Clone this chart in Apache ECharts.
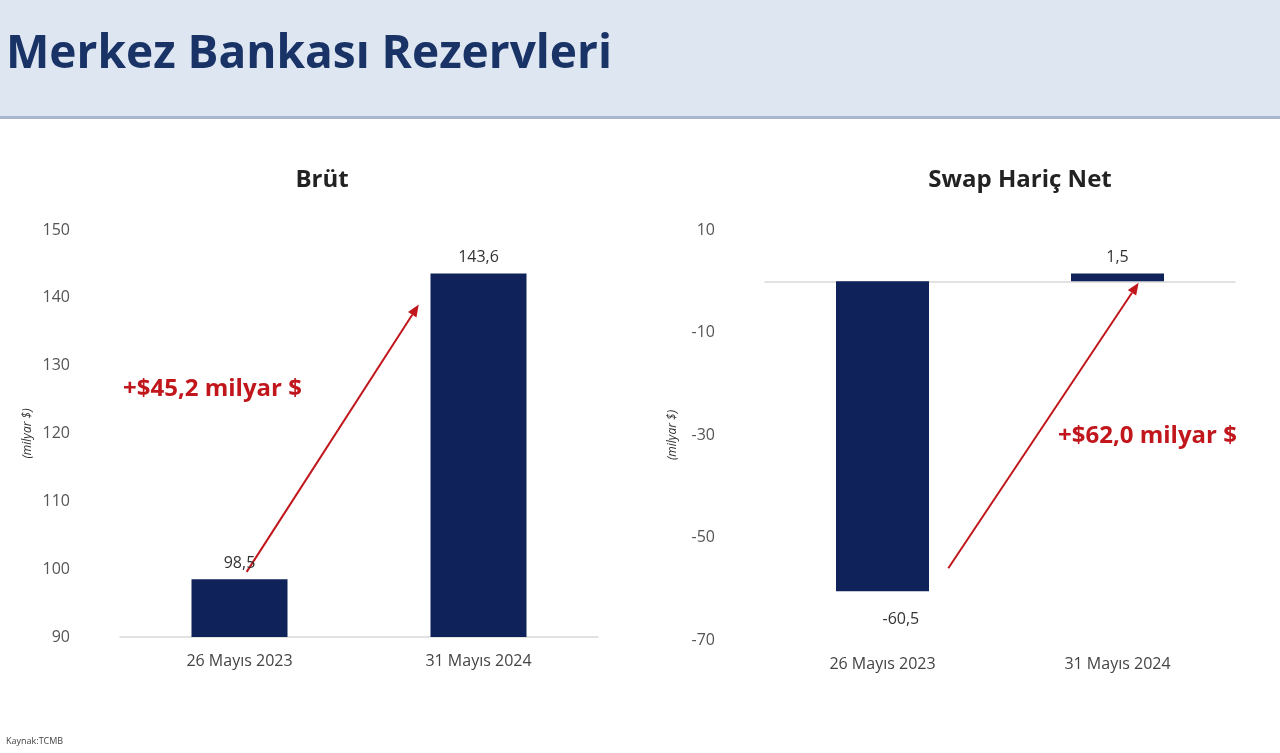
<!DOCTYPE html><html><head><meta charset="utf-8">
<script src="https://cdn.jsdelivr.net/npm/echarts@6/dist/echarts.min.js"></script>
<style>html,body{margin:0;padding:0;background:#fff}#c{width:1280px;height:753px}</style></head><body><div id="c"></div>
<script>
const categories = ['26 Mayıs 2023', '31 Mayıs 2024'];
const brut = [98.5, 143.6];
const net = [-60.5, 1.5];
const brutTicks = [90, 150, 10];
const netTicks = [-70, 10, 20];
const fmt = v => String(v).replace('.', ',');
const chart = echarts.init(document.getElementById('c'));
const navy = '#0f2259', red = '#c0161c', font = 'Open Sans';
const xa = (gi) => ({type:'category', gridIndex:gi, data:categories,
  axisTick:{show:false}, axisLine:{lineStyle:{color:'#d9d9d9', width:1.5}},
  axisLabel:{color:'#444', fontSize:16, fontFamily:font, margin:16}});
const ya = (gi, t) => ({type:'value', gridIndex:gi, min:t[0], max:t[1], interval:t[2],
  splitLine:{show:false}, axisLine:{show:false}, axisTick:{show:false},
  axisLabel:{color:'#555', fontSize:16, fontFamily:font, margin:50, formatter:fmt},
  name:'(milyar $)', nameLocation:'middle', nameGap:86, nameRotate:90,
  nameTextStyle:{fontStyle:'italic', fontSize:12, color:'#333', fontFamily:font}});
chart.setOption({
  animation:false,
  title:[
    {text:'Brüt', left:317, top:163, textAlign:'center', textStyle:{fontSize:24, fontWeight:'bold', color:'#222', fontFamily:font}},
    {text:'Swap Hariç Net', left:1015, top:163, textAlign:'center', textStyle:{fontSize:24, fontWeight:'bold', color:'#222', fontFamily:font}}
  ],
  grid:[{left:120, width:478, top:230, height:407}, {left:765, width:470, top:230, height:410}],
  xAxis:[xa(0), xa(1)],
  yAxis:[ya(0, brutTicks), ya(1, netTicks)],
  series:[
    {type:'bar', xAxisIndex:0, yAxisIndex:0, data:brut, barWidth:96, itemStyle:{color:navy},
     label:{show:true, position:'top', color:'#333', fontSize:16, fontFamily:font, distance:8, formatter:p=>fmt(p.value)}},
    {type:'bar', xAxisIndex:1, yAxisIndex:1, data:net, barWidth:93, itemStyle:{color:navy},
     label:{show:true, position:'top', color:'#333', fontSize:16, fontFamily:font, distance:8, formatter:p=>fmt(p.value)},
     labelLayout:p=>p.dataIndex===0?{y:p.rect.y+p.rect.height+20}:{}}
  ]
});
function px(gi, cat, off, val){
  const a = chart.convertToPixel({gridIndex:gi}, [cat, val]);
  const b = chart.convertToPixel({gridIndex:gi}, [1, val]);
  const c0 = chart.convertToPixel({gridIndex:gi}, [0, val]);
  return [a[0] + off*(b[0]-c0[0]), a[1]];
}
function arrow(p1, p2){
  const ang = Math.atan2(p2[1]-p1[1], p2[0]-p1[0]), L = 12, W = 5;
  const bx = p2[0]-L*Math.cos(ang), by = p2[1]-L*Math.sin(ang);
  return [
    {type:'line', shape:{x1:p1[0],y1:p1[1],x2:bx,y2:by}, style:{stroke:red, lineWidth:2, fill:null}},
    {type:'polygon', shape:{points:[p2,[bx+W*Math.sin(ang), by-W*Math.cos(ang)],[bx-W*Math.sin(ang), by+W*Math.cos(ang)]]}, style:{fill:red}}
  ];
}
const a1 = arrow(px(0,0,0.03,99.6), px(0,1,-0.25,139));
const a2 = arrow(px(1,0,0.28,-56), px(1,1,0.09,-0.3));
chart.setOption({graphic:{elements:[
  {type:'rect', shape:{x:0,y:0,width:1280,height:117}, style:{fill:'#dde6f1'}},
  {type:'rect', shape:{x:0,y:116,width:1280,height:3}, style:{fill:'#a7b6cc'}},
  {type:'text', left:6, top:32, style:{text:'Merkez Bankası Rezervleri', fill:'#1a3366', font:'bold 46px "Open Sans"'}},
  {type:'text', left:6, top:737, style:{text:'Kaynak:TCMB', fill:'#444', font:'9px "Open Sans"'}},
  ...a1, ...a2,
  {type:'text', left:123, top:377, style:{text:'+$45,2 milyar $', fill:red, font:'bold 24px "Open Sans"'}},
  {type:'text', left:1058, top:424, style:{text:'+$62,0 milyar $', fill:red, font:'bold 24px "Open Sans"'}}
]}});
</script></body></html>
